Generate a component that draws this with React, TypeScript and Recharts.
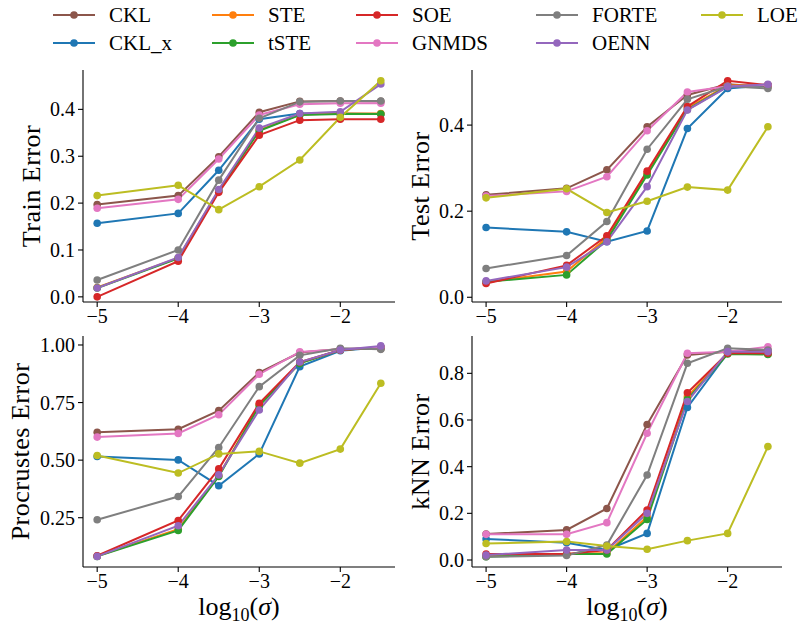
import React from 'react';
import { LineChart, Line, XAxis, YAxis, Label } from 'recharts';

const X_VALUES = [-5, -4, -3.5, -3, -2.5, -2, -1.5];
const METHODS = ['CKL', 'CKL_x', 'STE', 'tSTE', 'SOE', 'GNMDS', 'FORTE', 'OENN', 'LOE'];
const COLORS = ['#8c564b', '#1f77b4', '#ff7f0e', '#2ca02c', '#d62728', '#e377c2', '#7f7f7f', '#9467bd', '#bcbd22'];
const X_TICKS = [-5, -4, -3, -2];

const trainError: Record<string, number[]> = {
  CKL: [0.197, 0.216, 0.299, 0.394, 0.417, 0.418, 0.417],
  CKL_x: [0.157, 0.178, 0.27, 0.379, 0.391, 0.391, 0.39],
  STE: [0.02, 0.083, 0.227, 0.356, 0.389, 0.391, 0.391],
  tSTE: [0.019, 0.082, 0.226, 0.354, 0.388, 0.39, 0.39],
  SOE: [0.0, 0.076, 0.223, 0.345, 0.377, 0.379, 0.379],
  GNMDS: [0.189, 0.208, 0.294, 0.388, 0.411, 0.413, 0.413],
  FORTE: [0.036, 0.1, 0.249, 0.381, 0.416, 0.418, 0.418],
  OENN: [0.019, 0.084, 0.229, 0.36, 0.391, 0.395, 0.454],
  LOE: [0.216, 0.238, 0.186, 0.235, 0.292, 0.383, 0.461],
};
const testError: Record<string, number[]> = {
  CKL: [0.238, 0.253, 0.296, 0.396, 0.47, 0.495, 0.489],
  CKL_x: [0.162, 0.152, 0.129, 0.154, 0.392, 0.485, 0.493],
  STE: [0.035, 0.06, 0.138, 0.288, 0.44, 0.492, 0.493],
  tSTE: [0.036, 0.052, 0.133, 0.284, 0.436, 0.49, 0.493],
  SOE: [0.032, 0.074, 0.143, 0.293, 0.443, 0.503, 0.493],
  GNMDS: [0.235, 0.246, 0.28, 0.387, 0.477, 0.49, 0.493],
  FORTE: [0.067, 0.097, 0.176, 0.344, 0.46, 0.49, 0.485],
  OENN: [0.038, 0.07, 0.129, 0.257, 0.435, 0.489, 0.495],
  LOE: [0.231, 0.252, 0.197, 0.223, 0.256, 0.249, 0.396],
};
const procrustesError: Record<string, number[]> = {
  CKL: [0.621, 0.634, 0.715, 0.88, 0.967, 0.983, 0.983],
  CKL_x: [0.516, 0.501, 0.389, 0.527, 0.906, 0.975, 0.99],
  STE: [0.083, 0.2, 0.432, 0.74, 0.922, 0.978, 0.99],
  tSTE: [0.082, 0.195, 0.429, 0.736, 0.92, 0.978, 0.99],
  SOE: [0.085, 0.238, 0.462, 0.747, 0.926, 0.978, 0.99],
  GNMDS: [0.6, 0.616, 0.697, 0.873, 0.97, 0.981, 0.99],
  FORTE: [0.241, 0.342, 0.555, 0.819, 0.955, 0.986, 0.981],
  OENN: [0.082, 0.215, 0.436, 0.718, 0.926, 0.978, 0.996],
  LOE: [0.52, 0.444, 0.527, 0.538, 0.487, 0.548, 0.834],
};
const knnError: Record<string, number[]> = {
  CKL: [0.111, 0.129, 0.221, 0.581, 0.879, 0.893, 0.9],
  CKL_x: [0.09, 0.074, 0.043, 0.114, 0.654, 0.886, 0.886],
  STE: [0.016, 0.026, 0.03, 0.185, 0.7, 0.885, 0.883],
  tSTE: [0.014, 0.026, 0.026, 0.174, 0.689, 0.883, 0.881],
  SOE: [0.026, 0.026, 0.043, 0.214, 0.717, 0.886, 0.886],
  GNMDS: [0.11, 0.11, 0.16, 0.543, 0.886, 0.893, 0.914],
  FORTE: [0.014, 0.019, 0.064, 0.364, 0.843, 0.907, 0.9],
  OENN: [0.021, 0.043, 0.043, 0.2, 0.679, 0.893, 0.893],
  LOE: [0.071, 0.079, 0.06, 0.046, 0.083, 0.114, 0.486],
};

const FONT = '"Liberation Serif", "Times New Roman", serif';
const W = 798;
const H = 630;
const Y_AXIS_W = 60;
const X_AXIS_H = 30;

type PanelSpec = {
  values: Record<string, number[]>;
  label: string;
  yDomain: [number, number];
  yTicks: number[];
  digits: number;
  box: { left: number; right: number; top: number; bottom: number };
  labelX: number;
  showXLabel: boolean;
};

const PANELS: PanelSpec[] = [
  { values: trainError, label: 'Train Error', yDomain: [-0.011, 0.484], yTicks: [0, 0.1, 0.2, 0.3, 0.4], digits: 1,
    box: { left: 83, right: 395, top: 70, bottom: 302 }, labelX: 31, showXLabel: false },
  { values: testError, label: 'Test Error', yDomain: [-0.011, 0.528], yTicks: [0, 0.2, 0.4], digits: 1,
    box: { left: 472, right: 782, top: 70, bottom: 302 }, labelX: 420, showXLabel: false },
  { values: procrustesError, label: 'Procrustes Error', yDomain: [0.036, 1.039], yTicks: [0.25, 0.5, 0.75, 1.0], digits: 2,
    box: { left: 83, right: 395, top: 336, bottom: 567 }, labelX: 20, showXLabel: true },
  { values: knnError, label: 'kNN Error', yDomain: [-0.03, 0.96], yTicks: [0, 0.2, 0.4, 0.6, 0.8], digits: 1,
    box: { left: 472, right: 782, top: 336, bottom: 567 }, labelX: 420, showXLabel: true },
];

const fmtX = (v: number) => (v < 0 ? '\u2212' + Math.abs(v) : String(v));

function Panel({ spec }: { spec: PanelSpec }) {
  const rows = X_VALUES.map((x, i) => {
    const r: Record<string, number> = { x };
    METHODS.forEach((m) => {
      r[m] = spec.values[m][i];
    });
    return r;
  });
  const { box } = spec;
  const margin = {
    left: box.left - Y_AXIS_W,
    right: W - box.right,
    top: box.top,
    bottom: H - box.bottom - X_AXIS_H,
  };
  const tickStyle = { fontFamily: FONT, fontSize: 20, fill: '#000' };
  return (
    <div style={{ position: 'absolute', left: 0, top: 0, fontFamily: FONT }}>
      <LineChart width={W} height={H} data={rows} margin={margin} style={{ fontFamily: FONT }}>
        <XAxis
          dataKey="x"
          type="number"
          domain={[-5.175, -1.325]}
          ticks={X_TICKS}
          allowDataOverflow
          tickFormatter={fmtX}
          height={X_AXIS_H}
          tick={tickStyle}
          tickSize={5}
          tickMargin={2}
          axisLine={{ stroke: '#000', strokeWidth: 1.1 }}
          tickLine={{ stroke: '#000', strokeWidth: 1.1 }}
        >
          {spec.showXLabel && (
            <Label
              content={(props: any) => {
                const vb = props.viewBox || {};
                const cx = vb.x + vb.width / 2;
                const y = vb.y + 48;
                return (
                  <text x={cx} y={y} textAnchor="middle" fontFamily={FONT} fontSize={26} fill="#000">
                    <tspan>log</tspan>
                    <tspan fontSize={18} dy={6}>10</tspan>
                    <tspan dy={-6}>(</tspan>
                    <tspan fontStyle="italic">σ</tspan>
                    <tspan>)</tspan>
                  </text>
                );
              }}
            />
          )}
        </XAxis>
        <YAxis
          type="number"
          domain={spec.yDomain}
          ticks={spec.yTicks}
          allowDataOverflow
          width={Y_AXIS_W}
          tickFormatter={(v: number) => v.toFixed(spec.digits)}
          tick={tickStyle}
          tickSize={5}
          tickMargin={3}
          axisLine={{ stroke: '#000', strokeWidth: 1.1 }}
          tickLine={{ stroke: '#000', strokeWidth: 1.1 }}
        >
          <Label
            content={(props: any) => {
              const vb = props.viewBox || {};
              const cy = vb.y + vb.height / 2;
              return (
                <text
                  x={spec.labelX}
                  y={cy}
                  transform={`rotate(-90 ${spec.labelX} ${cy})`}
                  textAnchor="middle"
                  dominantBaseline="central"
                  fontFamily={FONT}
                  fontSize={26}
                  letterSpacing={0.5}
                  fill="#000"
                >
                  {spec.label}
                </text>
              );
            }}
          />
        </YAxis>
        {METHODS.map((m, i) => (
          <Line
            key={m}
            dataKey={m}
            type="linear"
            stroke={COLORS[i]}
            strokeWidth={2}
            dot={{ r: 3.8, fill: COLORS[i], stroke: 'none' }}
            isAnimationActive={false}
          />
        ))}
      </LineChart>
    </div>
  );
}

const LEGEND_COL_X = [53, 212, 356, 536, 701];
const LEGEND_ROW_Y = [15, 43];

function LegendBox() {
  return (
    <svg width={W} height={60} style={{ position: 'absolute', left: 0, top: 0, fontFamily: FONT }}>
      {METHODS.map((m, i) => {
        const col = Math.floor(i / 2);
        const row = i % 2;
        const x = LEGEND_COL_X[col];
        const y = LEGEND_ROW_Y[row];
        return (
          <g key={m}>
            <line x1={x} y1={y} x2={x + 42} y2={y} stroke={COLORS[i]} strokeWidth={2} />
            <circle cx={x + 21} cy={y} r={3.8} fill={COLORS[i]} />
            <text x={x + 56} y={y + 7} fontFamily={FONT} fontSize={21} fill="#000">
              {m}
            </text>
          </g>
        );
      })}
    </svg>
  );
}

export default function App() {
  return (
    <div style={{ position: 'absolute', left: 0, top: 0, width: W, height: H, background: '#fff', fontFamily: FONT }}>
      {PANELS.map((p, i) => (
        <Panel key={i} spec={p} />
      ))}
      <LegendBox />
    </div>
  );
}
